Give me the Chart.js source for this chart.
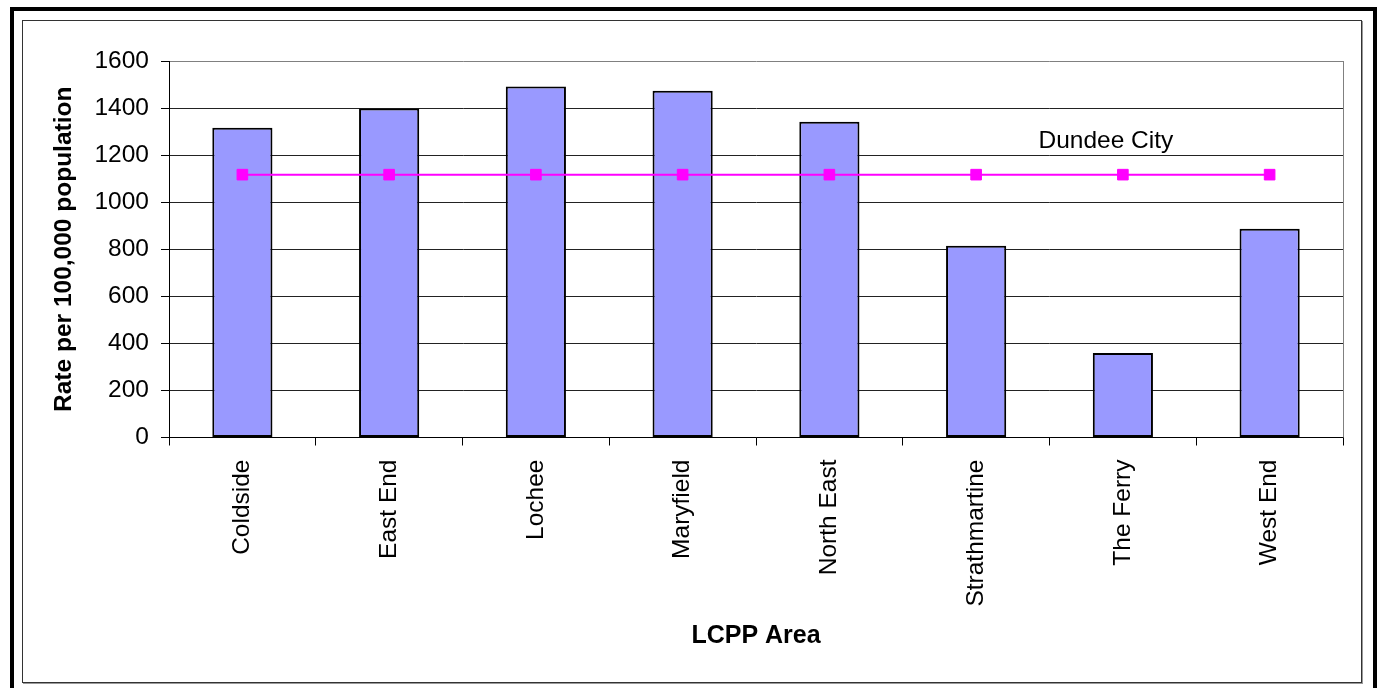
<!DOCTYPE html>
<html>
<head>
<meta charset="utf-8">
<script src="https://cdn.jsdelivr.net/npm/chart.js@4/dist/chart.umd.min.js"></script>
<style>
  html, body { margin: 0; padding: 0; background: #fff; }
  #wrap { position: relative; width: 1381px; height: 688px; }
  canvas { display: block; }
</style>
</head>
<body>
<div id="wrap"><canvas id="c" width="1381" height="688"></canvas></div>
<script>
// LCPP areas and their rates per 100,000 population
const areas = ['Coldside', 'East End', 'Lochee', 'Maryfield', 'North East', 'Strathmartine', 'The Ferry', 'West End'];
const areaRates = [1316, 1398, 1492, 1474, 1342, 815, 359, 887];
// Dundee City overall rate, repeated for each area so it reads as a reference line
const cityRates = [1117, 1117, 1117, 1117, 1117, 1117, 1117, 1117];
const cityLabel = 'Dundee City';
const yTicks = [0, 200, 400, 600, 800, 1000, 1200, 1400, 1600];

const FONT = "'Liberation Sans', Arial, sans-serif";

// Frames around the whole figure and around the chart area
const framePlugin = {
  id: 'frames',
  beforeDraw(chart) {
    const ctx = chart.ctx;
    ctx.save();
    ctx.fillStyle = '#fff';
    ctx.fillRect(0, 0, chart.width, chart.height);
    // outer heavy frame (open at the bottom)
    ctx.fillStyle = '#000';
    ctx.fillRect(10, 7, 4, 681);
    ctx.fillRect(10, 7, 1367, 4);
    ctx.fillRect(1373, 7, 4, 681);
    // inner chart frame with a soft shadow on the right and bottom
    ctx.strokeStyle = '#333';
    ctx.lineWidth = 1;
    ctx.strokeRect(22.5, 20.5, 1339, 662);
    ctx.fillStyle = '#999';
    ctx.fillRect(1362, 21, 1, 663);
    ctx.fillRect(23, 683, 1340, 1);
    ctx.restore();
  },
  afterDatasetsDraw(chart) {
    // plot area border on the right
    const a = chart.chartArea;
    const ctx = chart.ctx;
    ctx.save();
    ctx.strokeStyle = '#808080';
    ctx.lineWidth = 1;
    ctx.beginPath();
    ctx.moveTo(Math.round(a.right) + 0.5, a.top);
    ctx.lineTo(Math.round(a.right) + 0.5, a.bottom);
    ctx.stroke();
    // series name above the city line, near The Ferry
    const meta = chart.getDatasetMeta(0);
    const pt = meta.data[6];
    ctx.fillStyle = '#000';
    ctx.font = '24.5px ' + FONT;
    ctx.textAlign = 'center';
    ctx.textBaseline = 'middle';
    ctx.fillText(cityLabel, pt.x - 17, pt.y - 33);
    ctx.restore();
  }
};

new Chart(document.getElementById('c'), {
  data: {
    labels: areas,
    datasets: [
      {
        type: 'line',
        label: cityLabel,
        data: cityRates,
        borderColor: '#FF00FF',
        backgroundColor: '#FF00FF',
        borderWidth: 2,
        pointStyle: 'rect',
        pointRadius: 7.5,
        pointBorderWidth: 1,
        pointBorderColor: '#FF00FF',
        pointBackgroundColor: '#FF00FF',
        order: 0
      },
      {
        type: 'bar',
        label: 'Rate',
        data: areaRates,
        backgroundColor: '#9999FF',
        borderColor: '#000',
        borderWidth: 2,
        borderSkipped: false,
        barPercentage: 0.41,
        categoryPercentage: 1,
        order: 1
      }
    ]
  },
  options: {
    responsive: false,
    animation: false,
    layout: { padding: { left: 30, right: 38, top: 61, bottom: 30 } },
    plugins: {
      legend: { display: false },
      tooltip: { enabled: false }
    },
    scales: {
      x: {
        offset: true,
        grid: {
          offset: true,
          drawOnChartArea: false,
          tickLength: 8,
          color: '#000'
        },
        border: { color: '#000', width: 1 },
        ticks: {
          minRotation: 90,
          maxRotation: 90,
          padding: 14,
          color: '#000',
          font: { family: FONT, size: 24.5 }
        },
        title: {
          display: true,
          text: 'LCPP Area',
          color: '#000',
          font: { family: FONT, size: 25, weight: 'bold' },
          padding: { top: 0, bottom: 7 }
        },
        afterFit(scale) { scale.height = 220.5; }
      },
      y: {
        min: 0,
        max: 1600,
        afterBuildTicks(scale) { scale.ticks = yTicks.map(v => ({ value: v })); },
        grid: {
          color: ctx => (ctx.tick && ctx.tick.value === 1600 ? '#808080' : '#222'),
          tickColor: '#000',
          tickLength: 8,
          lineWidth: 1
        },
        border: { color: '#000', width: 1 },
        ticks: {
          padding: 12,
          color: '#000',
          font: { family: FONT, size: 24.5 },
          callback: v => String(v)
        },
        title: {
          display: true,
          text: 'Rate per 100,000 population',
          color: '#000',
          font: { family: FONT, size: 24.5, weight: 'bold' },
          padding: { top: 20, bottom: 0 }
        },
        afterFit(scale) { scale.width = 139; }
      }
    }
  },
  plugins: [framePlugin]
});
</script>
</body>
</html>
